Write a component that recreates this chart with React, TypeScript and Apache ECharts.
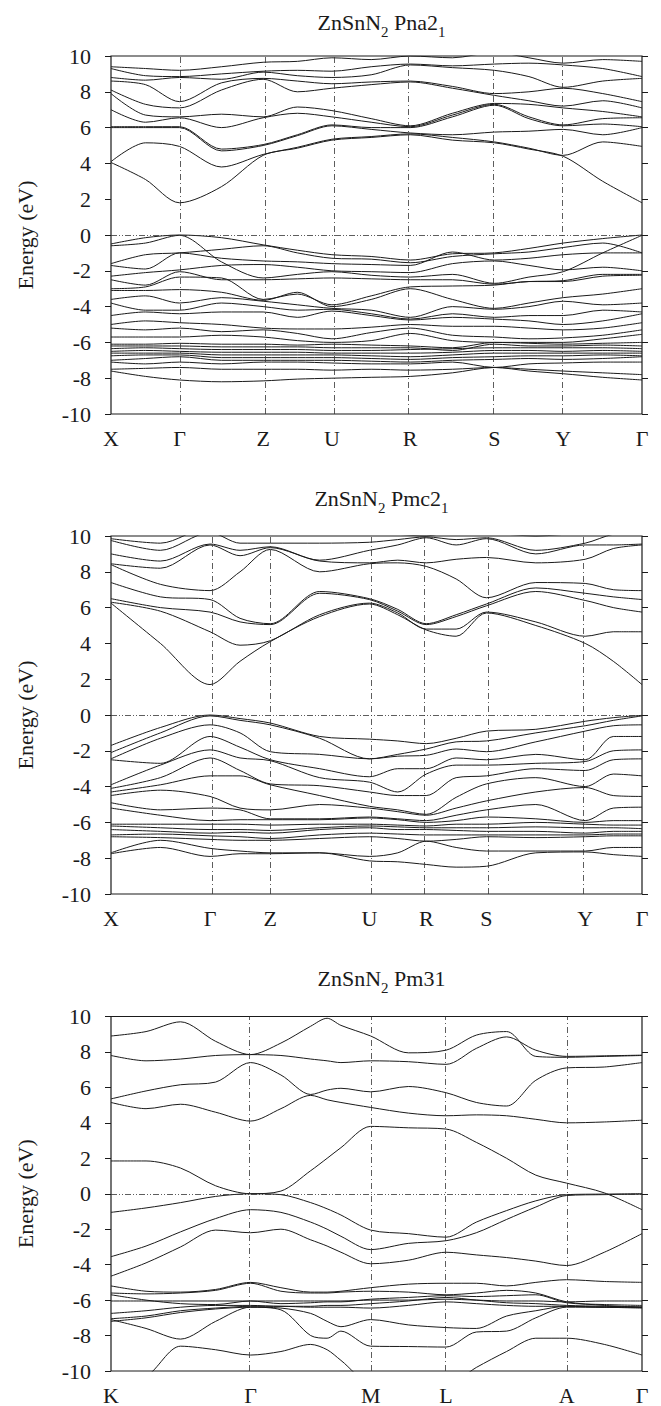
import React, { useEffect, useRef } from "react";
import * as echarts from "echarts";

// ---------- Panel 1: ZnSnN2 Pna21 ----------
const kx1 = [0, 0.065, 0.129, 0.208, 0.2865, 0.351, 0.416, 0.49, 0.5635, 0.643, 0.722, 0.787, 0.8516, 0.926, 1];
const hs1 = [0, 0.129, 0.2865, 0.416, 0.5635, 0.722, 0.8516, 1];
const hsLabels1 = ["X", "Γ", "Z", "U", "R", "S", "Y", "Γ"];
const cond1 = [
  [4.05, 3.1, 1.8, 2.7, 4.45, 4.85, 5.3, 5.45, 5.6, 5.3, 5.15, 4.8, 4.4, 3.0, 1.8],
  [4.1, 5.15, 4.95, 3.8, 4.5, 4.9, 5.35, 5.5, 5.65, 5.45, 5.2, 4.85, 4.45, 5.2, 4.95],
  [6.0, 6.0, 6.0, 4.7, 5.0, 5.55, 6.1, 5.9, 5.7, 5.6, 5.75, 5.8, 5.9, 5.6, 6.0],
  [6.05, 6.05, 6.05, 4.8, 5.05, 5.6, 6.15, 6.0, 6.0, 6.6, 7.25, 6.5, 6.1, 6.2, 6.05],
  [7.0, 6.3, 6.55, 6.0, 6.55, 6.8, 6.6, 6.3, 6.05, 6.7, 7.3, 6.6, 6.15, 6.5, 6.55],
  [7.9, 6.7, 6.6, 6.75, 6.6, 7.15, 6.95, 6.5, 6.1, 6.8, 7.35, 7.3, 7.1, 6.9, 6.6],
  [8.1, 7.3, 7.1, 8.1, 8.7, 8.0, 8.2, 8.4, 8.55, 8.2, 7.8, 7.5, 7.2, 7.5, 7.1],
  [8.6, 8.4, 7.45, 8.5, 8.75, 8.6, 8.45, 8.55, 8.6, 8.3, 7.9, 8.0, 8.2, 7.9, 7.45],
  [8.8, 8.65, 8.8, 8.7, 9.1, 8.9, 8.8, 8.95, 9.5, 9.35, 9.2, 8.85, 8.25, 8.6, 8.75],
  [9.3, 8.9, 8.85, 9.0, 9.15, 9.2, 9.15, 9.4, 9.55, 9.45, 9.55, 9.6, 9.5, 9.3, 8.85],
  [9.4, 9.3, 9.2, 9.4, 9.65, 9.7, 9.9, 9.8, 10.0, 9.9, 10.2, 9.9, 9.6, 9.8, 9.7],
];
const val1 = [
  [-0.5, -0.15, 0.0, -0.15, -0.55, -0.85, -1.1, -1.2, -1.4, -1.05, -1.0, -0.75, -0.45, -0.2, 0.0],
  [-0.6, -0.45, -0.02, -1.5, -2.4, -2.2, -2.05, -2.25, -2.35, -2.2, -2.7, -2.35, -2.05, -1.0, -0.02],
  [-1.6, -1.1, -1.0, -0.8, -0.6, -1.0, -1.3, -1.35, -1.55, -1.2, -1.05, -0.95, -0.7, -0.45, -1.0],
  [-1.7, -1.9, -1.0, -1.3, -1.45, -1.5, -1.6, -1.65, -1.7, -0.95, -1.4, -1.3, -1.1, -1.0, -1.0],
  [-2.3, -2.1, -1.95, -1.7, -1.65, -1.8, -2.0, -2.05, -2.1, -1.6, -1.45, -1.7, -1.95, -1.8, -2.0],
  [-2.5, -2.8, -2.05, -2.5, -2.5, -2.45, -2.4, -2.45, -2.5, -2.5, -2.75, -2.6, -2.55, -2.2, -2.2],
  [-3.0, -2.9, -2.35, -2.4, -3.6, -3.3, -3.9, -3.4, -2.9, -2.85, -2.8, -2.6, -2.6, -2.3, -2.25],
  [-3.1, -3.1, -3.05, -3.2, -3.65, -3.2, -4.0, -3.6, -3.0, -3.6, -4.1, -3.8, -3.5, -3.3, -3.0],
  [-3.6, -3.4, -3.8, -3.5, -3.7, -3.9, -4.1, -4.2, -4.6, -4.0, -4.15, -4.0, -3.7, -3.9, -3.8],
  [-3.8, -4.2, -4.2, -3.8, -4.0, -4.2, -4.15, -4.4, -4.7, -4.4, -4.6, -4.5, -4.5, -4.2, -4.3],
  [-4.5, -4.3, -4.4, -4.3, -4.3, -4.6, -4.25, -4.5, -4.75, -4.6, -4.7, -4.8, -5.0, -4.8, -4.4],
  [-5.0, -4.8, -4.9, -5.0, -5.2, -5.25, -5.25, -5.15, -5.0, -5.1, -5.1, -5.2, -5.3, -5.2, -4.9],
  [-5.2, -5.3, -5.2, -5.4, -5.3, -5.5, -5.8, -5.45, -5.2, -5.6, -5.7, -5.8, -5.75, -5.6, -5.3],
  [-5.7, -5.7, -5.7, -5.6, -5.7, -5.9, -6.0, -5.9, -5.5, -5.9, -6.0, -6.0, -6.0, -5.8, -5.55],
  [-6.1, -6.1, -6.05, -6.1, -6.1, -6.15, -6.1, -6.15, -6.2, -6.3, -6.0, -6.05, -6.1, -6.05, -6.0],
  [-6.2, -6.2, -6.2, -6.25, -6.25, -6.25, -6.3, -6.3, -6.3, -6.45, -6.1, -6.2, -6.2, -6.15, -6.2],
  [-6.35, -6.3, -6.35, -6.4, -6.4, -6.4, -6.45, -6.45, -6.4, -6.35, -6.3, -6.3, -6.3, -6.3, -6.35],
  [-6.5, -6.45, -6.5, -6.55, -6.55, -6.55, -6.6, -6.6, -6.6, -6.55, -6.45, -6.45, -6.5, -6.45, -6.5],
  [-6.6, -6.6, -6.6, -6.7, -6.7, -6.7, -6.7, -6.75, -6.8, -6.7, -6.6, -6.6, -6.6, -6.6, -6.6],
  [-6.75, -6.7, -6.7, -6.85, -6.85, -6.85, -6.85, -6.9, -6.95, -6.85, -6.8, -6.75, -6.75, -6.7, -6.75],
  [-7.0, -6.9, -6.8, -7.0, -7.0, -7.0, -7.0, -7.05, -7.1, -7.0, -6.95, -6.9, -6.95, -6.9, -6.8],
  [-7.1, -7.2, -7.1, -7.2, -7.1, -7.1, -7.15, -7.2, -7.2, -7.1, -7.4, -7.2, -7.15, -7.1, -7.1],
  [-7.5, -7.45, -7.4, -7.5, -7.5, -7.5, -7.55, -7.5, -7.55, -7.5, -7.4, -7.5, -7.6, -7.7, -7.8],
  [-7.6, -7.9, -8.1, -8.2, -8.15, -8.05, -8.0, -7.95, -7.9, -7.7, -7.4, -7.6, -7.75, -7.95, -8.1],
];

// ---------- Panel 2: ZnSnN2 Pmc21 ----------
const kx2 = [0, 0.093, 0.1865, 0.243, 0.3, 0.393, 0.4865, 0.54, 0.5937, 0.65, 0.707, 0.8, 0.893, 0.946, 1];
const hs2 = [0, 0.1865, 0.3, 0.4865, 0.5937, 0.707, 0.893, 1];
const hsLabels2 = ["X", "Γ", "Z", "U", "R", "S", "Y", "Γ"];
const cond2 = [
  [6.25, 4.0, 1.7, 3.0, 4.1, 5.5, 6.2, 5.6, 4.75, 4.4, 5.7, 5.0, 4.0, 3.0, 1.7],
  [6.3, 5.8, 4.65, 3.9, 4.15, 5.6, 6.25, 5.7, 4.8, 4.8, 5.75, 5.2, 4.4, 4.65, 4.65],
  [6.5, 6.0, 5.75, 5.2, 5.05, 6.8, 6.45, 5.8, 5.05, 5.5, 6.1, 6.9, 6.4, 6.0, 5.75],
  [7.4, 6.6, 6.45, 5.4, 5.1, 6.9, 6.5, 5.9, 5.1, 5.6, 6.2, 7.1, 6.8, 6.6, 6.45],
  [8.4, 7.3, 6.95, 8.0, 9.25, 8.0, 8.45, 8.5, 8.3, 7.6, 6.55, 7.4, 7.35, 7.0, 6.95],
  [8.45, 8.2, 9.5, 8.9, 9.35, 8.6, 8.5, 8.65, 8.5, 8.7, 8.8, 8.5, 8.7, 9.3, 9.5],
  [9.0, 8.6, 9.55, 9.2, 9.4, 8.65, 9.2, 9.5, 9.9, 9.5, 9.85, 9.0, 9.5, 9.5, 9.55],
  [9.75, 9.2, 10.2, 9.6, 9.6, 9.6, 9.65, 9.8, 9.95, 9.8, 9.9, 9.2, 9.6, 10.1, 10.2],
  [9.85, 9.6, 10.5, 10.2, 10.4, 10.3, 10.3, 10.1, 10.0, 10.3, 10.2, 10.0, 10.2, 10.3, 10.5],
];
const val2 = [
  [-1.7, -0.7, 0.0, -0.2, -0.45, -1.2, -1.35, -1.45, -1.6, -1.3, -0.9, -0.8, -0.35, -0.15, -0.02],
  [-2.1, -1.0, -0.05, -0.3, -0.55, -1.3, -2.45, -2.2, -1.9, -1.5, -1.45, -1.0, -0.6, -0.3, -0.05],
  [-2.45, -1.3, -0.55, -1.0, -2.05, -2.2, -2.45, -2.3, -2.25, -1.9, -2.05, -1.5, -0.9, -0.6, -0.55],
  [-2.5, -2.7, -1.2, -1.8, -2.5, -3.0, -3.45, -3.0, -3.0, -2.4, -2.5, -2.2, -2.5, -1.2, -1.2],
  [-3.9, -2.8, -1.95, -2.4, -2.55, -3.5, -3.75, -4.3, -3.3, -2.8, -2.8, -2.7, -2.6, -2.0, -1.95],
  [-4.1, -3.5, -2.4, -3.1, -3.85, -3.95, -4.3, -4.5, -4.5, -3.5, -3.4, -3.0, -3.1, -2.5, -2.45],
  [-4.3, -3.9, -3.4, -3.4, -3.9, -4.5, -5.1, -5.3, -5.55, -4.6, -3.85, -3.5, -4.0, -3.3, -3.4],
  [-4.5, -4.2, -4.55, -5.2, -5.3, -5.0, -5.2, -5.4, -5.6, -5.2, -4.8, -4.3, -4.05, -4.5, -4.55],
  [-4.9, -5.3, -5.2, -5.3, -5.8, -5.8, -5.7, -5.8, -5.9, -5.6, -5.3, -5.0, -5.9, -5.2, -5.15],
  [-5.2, -5.6, -5.9, -5.85, -5.85, -5.85, -5.75, -5.85, -6.0, -5.9, -5.7, -5.8, -6.0, -5.9, -5.9],
  [-6.1, -6.1, -6.1, -6.1, -6.15, -6.1, -6.1, -6.15, -6.2, -6.1, -6.1, -6.0, -6.1, -6.15, -6.15],
  [-6.2, -6.3, -6.4, -6.4, -6.45, -6.3, -6.2, -6.25, -6.3, -6.3, -6.3, -6.25, -6.3, -6.3, -6.35],
  [-6.4, -6.5, -6.6, -6.55, -6.6, -6.4, -6.3, -6.4, -6.4, -6.45, -6.5, -6.5, -6.6, -6.5, -6.5],
  [-6.7, -6.65, -6.75, -6.8, -6.9, -6.7, -6.6, -6.65, -6.7, -6.7, -6.7, -6.7, -6.7, -6.65, -6.65],
  [-6.8, -6.85, -6.95, -7.0, -7.0, -6.9, -6.8, -6.9, -7.05, -6.95, -6.8, -6.85, -6.8, -6.75, -6.75],
  [-7.7, -7.0, -7.45, -7.6, -7.7, -7.7, -7.9, -7.7, -7.05, -7.4, -7.6, -7.6, -7.6, -7.4, -7.4],
  [-7.75, -7.4, -7.9, -7.75, -7.75, -7.7, -8.15, -8.2, -8.35, -8.5, -8.45, -7.7, -7.65, -7.8, -7.9],
];

// ---------- Panel 3: ZnSnN2 Pm31 ----------
const kx3 = [0, 0.066, 0.131, 0.197, 0.2627, 0.32, 0.376, 0.407, 0.433, 0.489, 0.56, 0.631, 0.688, 0.745, 0.8, 0.858, 0.929, 1];
const hs3 = [0, 0.2627, 0.489, 0.631, 0.858, 1];
const hsLabels3 = ["K", "Γ", "M", "L", "A", "Γ"];
const bands3 = [
  [8.9, 9.15, 9.7, 8.6, 7.85, 8.5, 9.45, 9.9, 9.5, 8.9, 7.95, 8.1, 8.95, 9.15, 7.75, 7.7, 7.75, 7.8],
  [7.8, 7.5, 7.6, 7.8, 7.85, 7.8, 7.6, 7.5, 7.4, 7.5, 7.45, 7.3, 8.2, 8.85, 8.1, 7.75, 7.78, 7.82],
  [5.35, 5.8, 6.15, 6.3, 7.4, 6.7, 5.6, 5.85, 5.95, 5.75, 6.05, 5.7, 5.15, 4.95, 6.4, 7.1, 7.15, 7.4],
  [5.15, 4.8, 5.05, 4.6, 4.1, 4.8, 5.55, 5.3, 5.15, 4.87, 4.55, 4.4, 4.45, 4.4, 4.2, 4.0, 4.05, 4.15],
  [1.85, 1.85, 1.45, 0.45, 0.0, 0.15, 1.3, 2.0, 2.6, 3.8, 3.72, 3.65, 2.9, 2.0, 1.05, 0.6, 0.05, -0.9],
  [-1.05, -0.8, -0.5, -0.15, 0.0, -0.05, -0.5, -0.85, -1.2, -2.05, -2.25, -2.45, -1.6, -0.95, -0.4, -0.05, -0.02, 0.0],
  [-3.55, -2.95, -2.15, -1.4, -0.9, -1.05, -1.6, -2.0, -2.4, -3.15, -2.8, -2.65, -2.2, -1.45, -0.75, -0.1, -0.05, -0.02],
  [-4.65, -3.9, -3.0, -2.05, -2.2, -2.0, -2.6, -2.95, -3.3, -3.95, -3.75, -3.3, -3.45, -3.6, -3.8, -4.05, -3.3, -2.25],
  [-5.2, -5.5, -5.55, -5.4, -5.0, -5.3, -5.55, -5.55, -5.5, -5.3, -5.1, -5.05, -5.05, -5.2, -5.0, -4.85, -4.95, -5.0],
  [-5.6, -5.65, -5.6, -5.45, -5.05, -5.5, -5.6, -5.6, -5.55, -5.5, -5.55, -5.7, -5.6, -5.45, -5.6, -6.1, -6.3, -6.4],
  [-5.7, -6.0, -6.2, -6.25, -6.05, -6.2, -6.15, -6.1, -6.1, -5.95, -5.85, -5.75, -5.8, -5.75, -5.7, -6.15, -6.25, -6.3],
  [-6.05, -6.05, -6.05, -6.05, -6.05, -6.05, -6.05, -6.05, -6.05, -6.0, -6.0, -5.95, -6.0, -6.05, -6.05, -6.1, -6.05, -6.05],
  [-6.75, -6.6, -6.4, -6.3, -6.3, -6.35, -6.35, -6.3, -6.3, -6.2, -6.05, -5.85, -6.0, -6.15, -6.2, -6.3, -6.35, -6.4],
  [-7.05, -6.9, -6.6, -6.45, -6.35, -6.35, -6.4, -6.4, -6.4, -6.45, -6.3, -6.1, -6.2, -6.3, -6.35, -6.35, -6.4, -6.45],
  [-7.1, -7.6, -8.2, -7.2, -6.4, -6.55, -8.0, -8.15, -7.75, -8.6, -8.62, -8.65, -7.8, -7.75, -7.0, -6.4, -6.4, -6.4],
  [-7.2, -7.0, -6.7, -6.5, -6.4, -6.45, -6.75, -7.2, -7.5, -7.1, -7.4, -7.55, -7.6, -6.9, -6.6, -6.35, -6.4, -6.4],
  [-10.6, -10.3, -8.6, -8.8, -9.1, -8.9, -8.5, -8.8, -9.4, -10.7, -10.8, -10.8, -9.8, -8.9, -8.15, -8.15, -8.5, -9.1],
];

const titles = [
  ["ZnSnN", "2", " Pna2", "1"],
  ["ZnSnN", "2", " Pmc2", "1"],
  ["ZnSnN", "2", " Pm31", ""],
];
const yTicks = { min: -10, max: 10, interval: 2 };

const FONT = "Liberation Serif";
const INK = "#1a1a1a";

export default function App() {
  const ref = useRef<HTMLDivElement>(null);
  useEffect(() => {
    if (!ref.current) return;
    const chart = echarts.init(ref.current, null, { renderer: "svg" });
    const gridLeft = 111;
    const gridWidth = 531;
    const gridHeight = 358;
    const gridTops = [56, 536, 1016.5];
    const titleCenters = [18, 494, 974];
    const panels = [
      { kx: kx1, hs: hs1, labels: hsLabels1, bands: [...cond1, ...val1] },
      { kx: kx2, hs: hs2, labels: hsLabels2, bands: [...cond2, ...val2] },
      { kx: kx3, hs: hs3, labels: hsLabels3, bands: bands3 },
    ];

    const grid: any[] = [];
    const xAxis: any[] = [];
    const yAxis: any[] = [];
    const series: any[] = [];
    const title: any[] = [];

    panels.forEach((p, pi) => {
      grid.push({
        left: gridLeft,
        top: gridTops[pi],
        width: gridWidth,
        height: gridHeight,
        show: true,
        borderColor: INK,
        borderWidth: 1.2,
        backgroundColor: "transparent",
        containLabel: false,
      });
      const t = titles[pi];
      title.push({
        text: `{m|${t[0]}}{s|${t[1]}}{m|${t[2]}}` + (t[3] ? `{s|${t[3]}}` : ""),
        left: gridLeft + gridWidth / 2,
        textAlign: "center",
        top: titleCenters[pi] - 12,
        textStyle: {
          fontWeight: "normal",
          fontFamily: FONT,
          rich: {
            m: { fontFamily: FONT, fontWeight: "normal", fontSize: 22, color: INK, lineHeight: 24, verticalAlign: "top" },
            s: { fontFamily: FONT, fontWeight: "normal", fontSize: 15, color: INK, lineHeight: 15, padding: [13, 0, 0, 0], verticalAlign: "top" },
          },
        },
      });
      const hs = p.hs;
      const labels = p.labels;
      xAxis.push({
        gridIndex: pi,
        type: "value",
        min: 0,
        max: 1,
        position: "bottom",
        axisLine: { show: false },
        axisTick: { show: false },
        splitLine: { show: false },
        axisLabel: {
          customValues: hs,
          margin: 13,
          fontFamily: FONT,
          fontSize: 22,
          color: INK,
          formatter: (v: number) => {
            let best = 0;
            for (let i = 1; i < hs.length; i++) if (Math.abs(hs[i] - v) < Math.abs(hs[best] - v)) best = i;
            return labels[best];
          },
        },
      });
      yAxis.push({
        gridIndex: pi,
        type: "value",
        position: "left",
        min: yTicks.min,
        max: yTicks.max,
        interval: yTicks.interval,
        name: "Energy (eV)",
        nameLocation: "middle",
        nameGap: 75,
        nameRotate: 90,
        nameTextStyle: { fontFamily: FONT, fontSize: 22, color: INK },
        axisLine: { show: false },
        axisTick: { show: true, inside: false, length: 6, lineStyle: { color: INK, width: 1 } },
        splitLine: { show: false },
        axisLabel: { margin: 20, fontFamily: FONT, fontSize: 22, color: INK },
      });
      yAxis.push({
        gridIndex: pi,
        type: "value",
        position: "right",
        min: yTicks.min,
        max: yTicks.max,
        interval: yTicks.interval,
        axisLine: { show: false },
        axisTick: { show: true, inside: false, length: 6, lineStyle: { color: INK, width: 1 } },
        splitLine: { show: false },
        axisLabel: { show: false },
      });

      p.bands.forEach((b, bi) => {
        const s: any = {
          type: "line",
          xAxisIndex: pi,
          yAxisIndex: pi * 2,
          data: p.kx.map((x, i) => [x, b[i]]),
          showSymbol: false,
          symbol: "none",
          smooth: 0.3,
          clip: true,
          silent: true,
          lineStyle: { color: INK, width: 1 },
          emphasis: { disabled: true },
          z: 3,
        };
        if (bi === 0) {
          s.markLine = {
            silent: true,
            symbol: "none",
            label: { show: false },
            animation: false,
            lineStyle: { color: "#333", width: 0.8, type: [6, 3, 1, 3] },
            data: [
              ...hs.slice(1, -1).map((v) => ({ xAxis: v })),
              { yAxis: 0, lineStyle: { color: "#333", width: 0.8, type: [6, 2, 1, 2, 1, 2] } },
            ],
          };
        }
        series.push(s);
      });
    });

    chart.setOption({
      animation: false,
      backgroundColor: "#ffffff",
      title,
      grid,
      xAxis,
      yAxis,
      series,
    });
    return () => chart.dispose();
  }, []);
  return (
    <div
      ref={ref}
      style={{ position: "absolute", left: 0, top: 0, width: 661, height: 1406 }}
    />
  );
}
